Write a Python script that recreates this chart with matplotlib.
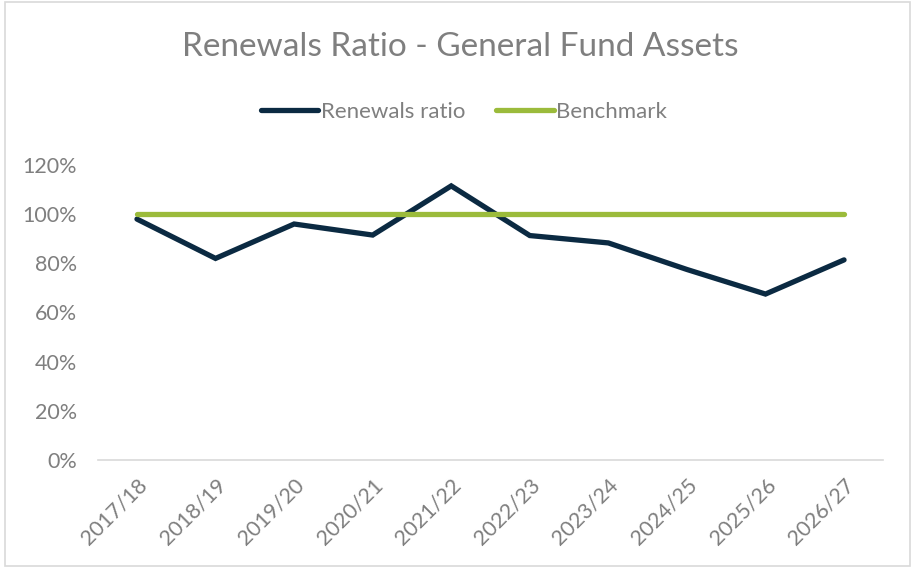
import numpy as np
import matplotlib.pyplot as plt
from matplotlib.patches import Rectangle

years = ["2017/18", "2018/19", "2019/20", "2020/21", "2021/22",
         "2022/23", "2023/24", "2024/25", "2025/26", "2026/27"]
renewals = [0.98, 0.82, 0.96, 0.915, 1.115, 0.913, 0.883, 0.775, 0.675, 0.814]
benchmark = [1.0] * len(years)
y_ticks = [0, 0.2, 0.4, 0.6, 0.8, 1.0, 1.2]

navy = "#0B2A42"
green = "#9BBB3B"
grey = "#7F7F7F"

plt.rcParams['font.family'] = ['Lato', 'DejaVu Sans']

fig = plt.figure(figsize=(9.13, 5.69), dpi=100)
ax = fig.add_axes([0.107, 0.1916, 0.8605, 0.5184])

x = np.arange(len(years))
ax.plot(x, renewals, color=navy, lw=3.8, label="Renewals ratio", solid_capstyle="round", solid_joinstyle="miter")
ax.plot(x, benchmark, color=green, lw=3.8, label="Benchmark", solid_capstyle="round")

ax.set_xlim(-0.5, len(years) - 0.5)
ax.set_ylim(0, 1.2)
ax.set_yticks(y_ticks)
ax.set_yticklabels([f"{int(round(v * 100))}%" for v in y_ticks], color=grey, fontsize=15.5)
ax.set_xticks(x)
ax.set_xticklabels(years, rotation=45, ha="right", rotation_mode="anchor", color=grey, fontsize=15.5)
ax.tick_params(axis="both", length=0)
ax.tick_params(axis="y", pad=15)
ax.tick_params(axis="x", pad=11)

for side in ["top", "right", "left"]:
    ax.spines[side].set_visible(False)
ax.spines["bottom"].set_color("#D9D9D9")
ax.spines["bottom"].set_linewidth(1.2)

fig.text(0.504, 0.917, "Renewals Ratio - General Fund Assets", ha="center", va="center",
         color=grey, fontsize=24)
fig.legend(loc="center", bbox_to_anchor=(0.508, 0.803), ncol=2, frameon=False,
           fontsize=16, labelcolor=grey, handlelength=2.6, handletextpad=0.1, columnspacing=1.4)

fig.patches.append(Rectangle((0.006, 0.006), 0.991, 0.99, transform=fig.transFigure,
                             fill=False, edgecolor="#D9D9D9", lw=1.2))

fig.savefig("out.png", dpi=100)
